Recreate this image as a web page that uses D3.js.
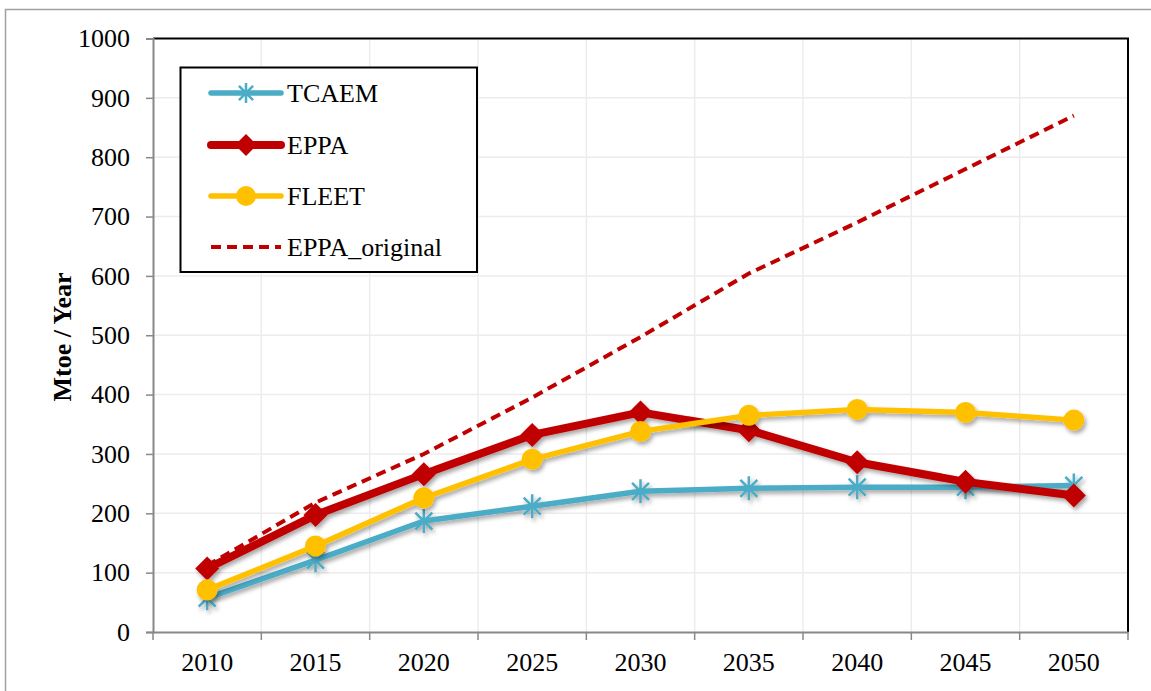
<!DOCTYPE html>
<html>
<head>
<meta charset="utf-8">
<script src="https://cdn.jsdelivr.net/npm/d3@7"></script>
<style>
  html, body { margin: 0; padding: 0; background: #fff; }
  svg { display: block; }
  text { font-family: "Liberation Serif", "Times New Roman", serif; fill: #000; }
</style>
</head>
<body>
<svg id="chart" width="1151" height="691"></svg>
<script>
// ---- data ----
const years = ["2010", "2015", "2020", "2025", "2030", "2035", "2040", "2045", "2050"];
const tcaem = [57, 121, 187, 212, 237, 242, 244, 244, 247];
const eppa = [107, 197, 266, 332, 370, 340, 286, 253, 230];
const fleet = [71, 145, 226, 291, 338, 365, 375, 370, 357];
const eppaOriginal = [112, 218, 300, 395, 497, 604, 690, 780, 870];
const yTicks = [0, 100, 200, 300, 400, 500, 600, 700, 800, 900, 1000];
const seriesNames = ["TCAEM", "EPPA", "FLEET", "EPPA_original"];
const yTitle = "Mtoe / Year";

(function () {
// ---- setup ----
const svg = d3.select("#chart");
const pL = 153, pR = 1128, pT = 38.5, pB = 632;
const x = d3.scaleBand().domain(years).range([pL, pR]).padding(0);
const y = d3.scaleLinear().domain([0, 1000]).range([pB, pT]);
const cx = d => x(d) + x.bandwidth() / 2;

const defs = svg.append("defs");
const f = defs.append("filter").attr("id", "shadow")
  .attr("x", "-20%").attr("y", "-20%").attr("width", "140%").attr("height", "140%");
f.append("feDropShadow").attr("dx", 2).attr("dy", 3).attr("stdDeviation", 2)
  .attr("flood-color", "#000").attr("flood-opacity", 0.35);

// outer frame
svg.append("rect").attr("x", 5.5).attr("y", 9.5).attr("width", 1300).attr("height", 900)
  .attr("fill", "none").attr("stroke", "#a0a0a0").attr("stroke-width", 1.5);

// gridlines
const grid = svg.append("g");
grid.selectAll("line.h").data(yTicks.filter(t => t > 0 && t < 1000)).join("line")
  .attr("x1", pL).attr("x2", pR)
  .attr("y1", d => y(d)).attr("y2", d => y(d))
  .attr("stroke", "#ececec").attr("stroke-width", 1.5);
grid.selectAll("line.v").data(years.slice(1)).join("line")
  .attr("x1", d => x(d)).attr("x2", d => x(d))
  .attr("y1", pT).attr("y2", pB)
  .attr("stroke", "#ececec").attr("stroke-width", 1.5);

// top/right border
svg.append("path")
  .attr("d", `M${pL},${pT}H${pR}V${pB}`)
  .attr("fill", "none").attr("stroke", "#000").attr("stroke-width", 2);

// y axis
const yAxis = svg.append("g").attr("transform", `translate(${pL},0)`)
  .call(d3.axisLeft(y).tickValues(yTicks).tickSize(7).tickPadding(16).tickFormat(d3.format("d")));
yAxis.select(".domain").attr("stroke", "#888").attr("stroke-width", 2);
yAxis.selectAll(".tick line").attr("stroke", "#888").attr("stroke-width", 1.5);
yAxis.selectAll(".tick text").attr("font-size", 26).attr("font-family", "Liberation Serif").attr("fill", "#000");

// x axis
const xAxis = svg.append("g").attr("transform", `translate(0,${pB})`)
  .call(d3.axisBottom(x).tickSize(0).tickPadding(21));
xAxis.select(".domain").attr("stroke", "#888").attr("stroke-width", 2);
xAxis.selectAll(".tick text").attr("font-size", 26).attr("font-family", "Liberation Serif").attr("fill", "#000");
// boundary ticks
svg.append("g").selectAll("line").data(x.domain().map(d => x(d)).concat([pR])).join("line")
  .attr("x1", d => d).attr("x2", d => d).attr("y1", pB).attr("y2", pB + 8)
  .attr("stroke", "#888").attr("stroke-width", 1.5);

// y title
svg.append("text").attr("transform", "translate(71,337) rotate(-90)")
  .attr("text-anchor", "middle").attr("font-size", 26).attr("font-weight", "bold")
  .text(yTitle);

// ---- series ----
const line = d3.line().x((d, i) => cx(years[i])).y(d => y(d));

function starPath(r) {
  const a = r * Math.SQRT1_2;
  return `M0,${-r}V${r}M${-a},${-a}L${a},${a}M${-a},${a}L${a},${-a}`;
}
const diamondPath = r => `M0,${-r}L${r},0L0,${r}L${-r},0Z`;

// TCAEM
const gT = svg.append("g").attr("filter", "url(#shadow)");
gT.append("path").datum(tcaem).attr("d", line).attr("fill", "none")
  .attr("stroke", "#4bacc6").attr("stroke-width", 5.5).attr("stroke-linejoin", "round");
gT.selectAll("path.m").data(tcaem).join("path").attr("class", "m")
  .attr("transform", (d, i) => `translate(${cx(years[i])},${y(d)})`)
  .attr("d", starPath(12)).attr("stroke", "#4bacc6").attr("stroke-width", 2.5).attr("fill", "none");

// EPPA
const gE = svg.append("g").attr("filter", "url(#shadow)");
gE.append("path").datum(eppa).attr("d", line).attr("fill", "none")
  .attr("stroke", "#c00000").attr("stroke-width", 8).attr("stroke-linejoin", "round");
gE.selectAll("path.m").data(eppa).join("path").attr("class", "m")
  .attr("transform", (d, i) => `translate(${cx(years[i])},${y(d)})`)
  .attr("d", diamondPath(12)).attr("fill", "#c00000");

// FLEET
const gF = svg.append("g").attr("filter", "url(#shadow)");
gF.append("path").datum(fleet).attr("d", line).attr("fill", "none")
  .attr("stroke", "#ffc000").attr("stroke-width", 5.5).attr("stroke-linejoin", "round");
gF.selectAll("circle").data(fleet).join("circle")
  .attr("cx", (d, i) => cx(years[i])).attr("cy", d => y(d)).attr("r", 10.5)
  .attr("fill", "#ffc000");

// EPPA_original
svg.append("path").datum(eppaOriginal).attr("d", line).attr("fill", "none")
  .attr("stroke", "#c00000").attr("stroke-width", 4).attr("stroke-dasharray", "10,6");

// ---- legend ----
const lg = svg.append("g");
lg.append("rect").attr("x", 180.5).attr("y", 67.5).attr("width", 296.5).attr("height", 204.5)
  .attr("fill", "#fff").attr("stroke", "#000").attr("stroke-width", 2);
const rowsY = [93, 145, 196, 247];
const lx1 = 211, lx2 = 281, lm = 246;
lg.append("line").attr("x1", lx1).attr("x2", lx2).attr("y1", rowsY[0]).attr("y2", rowsY[0])
  .attr("stroke", "#4bacc6").attr("stroke-width", 5.5).attr("stroke-linecap", "round");
lg.append("path").attr("transform", `translate(${lm},${rowsY[0]})`).attr("d", starPath(10))
  .attr("stroke", "#4bacc6").attr("stroke-width", 2.5);
lg.append("line").attr("x1", lx1).attr("x2", lx2).attr("y1", rowsY[1]).attr("y2", rowsY[1])
  .attr("stroke", "#c00000").attr("stroke-width", 8).attr("stroke-linecap", "round");
lg.append("path").attr("transform", `translate(${lm},${rowsY[1]})`).attr("d", diamondPath(11))
  .attr("fill", "#c00000");
lg.append("line").attr("x1", lx1).attr("x2", lx2).attr("y1", rowsY[2]).attr("y2", rowsY[2])
  .attr("stroke", "#ffc000").attr("stroke-width", 5.5).attr("stroke-linecap", "round");
lg.append("circle").attr("cx", lm).attr("cy", rowsY[2]).attr("r", 10).attr("fill", "#ffc000");
lg.append("line").attr("x1", lx1).attr("x2", lx2).attr("y1", rowsY[3]).attr("y2", rowsY[3])
  .attr("stroke", "#c00000").attr("stroke-width", 4).attr("stroke-dasharray", "10,6");
lg.selectAll("text").data(seriesNames).join("text")
  .attr("x", 287).attr("y", (d, i) => rowsY[i] + 9)
  .attr("font-size", 26).text(d => d);
})();
</script>
</body>
</html>
